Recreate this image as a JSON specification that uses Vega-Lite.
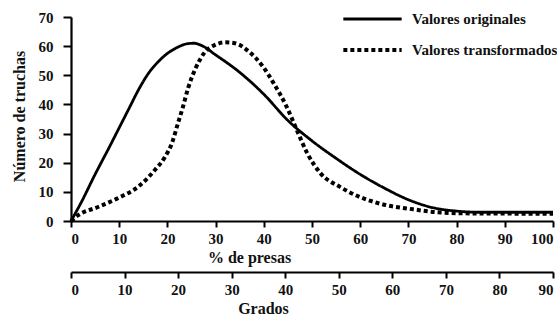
{
  "$schema": "https://vega.github.io/schema/vega-lite/v6.json",
  "width": 482,
  "height": 204,
  "autosize": {"type": "none"},
  "padding": {"left": 71, "top": 17, "right": 4, "bottom": 95},
  "background": "white",
  "config": {
    "view": {"stroke": null},
    "font": "'Liberation Serif', 'Times New Roman', serif",
    "axis": {
      "grid": false,
      "domainColor": "black",
      "domainWidth": 2.2,
      "tickColor": "black",
      "tickWidth": 2,
      "labelFont": "'Liberation Serif', 'Times New Roman', serif",
      "labelFontWeight": "bold",
      "labelFontSize": 15,
      "labelColor": "#111",
      "titleFont": "'Liberation Serif', 'Times New Roman', serif",
      "titleFontWeight": "bold",
      "titleFontSize": 16,
      "titleColor": "#111"
    },
    "legend": {
      "orient": "none",
      "legendX": 270,
      "legendY": -12,
      "symbolType": "stroke",
      "symbolSize": 3400,
      "symbolStrokeWidth": 3,
      "symbolStrokeColor": "black",
      "labelFont": "'Liberation Serif', 'Times New Roman', serif",
      "labelFontWeight": "bold",
      "labelFontSize": 15,
      "labelColor": "#111",
      "labelOffset": 8,
      "clipHeight": 28,
      "rowPadding": 3,
      "labelLimit": 400
    }
  },
  "layer": [
    {
      "data": {
        "values": [
          {"serie": "Valores originales", "pct": 0, "n": 0},
          {"serie": "Valores originales", "pct": 2, "n": 6},
          {"serie": "Valores originales", "pct": 5, "n": 16},
          {"serie": "Valores originales", "pct": 8, "n": 25.5},
          {"serie": "Valores originales", "pct": 10, "n": 32},
          {"serie": "Valores originales", "pct": 12, "n": 38.5},
          {"serie": "Valores originales", "pct": 14, "n": 45},
          {"serie": "Valores originales", "pct": 16, "n": 50.5},
          {"serie": "Valores originales", "pct": 18, "n": 54.5},
          {"serie": "Valores originales", "pct": 20, "n": 57.5},
          {"serie": "Valores originales", "pct": 22, "n": 59.5},
          {"serie": "Valores originales", "pct": 24, "n": 60.8},
          {"serie": "Valores originales", "pct": 25.5, "n": 61},
          {"serie": "Valores originales", "pct": 27, "n": 60.3},
          {"serie": "Valores originales", "pct": 30, "n": 57},
          {"serie": "Valores originales", "pct": 35, "n": 51},
          {"serie": "Valores originales", "pct": 40, "n": 43.5},
          {"serie": "Valores originales", "pct": 45, "n": 34.5},
          {"serie": "Valores originales", "pct": 50, "n": 27.5},
          {"serie": "Valores originales", "pct": 55, "n": 21.5},
          {"serie": "Valores originales", "pct": 60, "n": 16},
          {"serie": "Valores originales", "pct": 65, "n": 11.3},
          {"serie": "Valores originales", "pct": 70, "n": 7.3},
          {"serie": "Valores originales", "pct": 75, "n": 4.6},
          {"serie": "Valores originales", "pct": 80, "n": 3.4},
          {"serie": "Valores originales", "pct": 85, "n": 3},
          {"serie": "Valores originales", "pct": 100, "n": 3},
          {"serie": "Valores transformados", "pct": 0, "n": 0},
          {"serie": "Valores transformados", "pct": 1.5, "n": 2},
          {"serie": "Valores transformados", "pct": 5.6, "n": 4.8},
          {"serie": "Valores transformados", "pct": 9.8, "n": 7.9},
          {"serie": "Valores transformados", "pct": 13.9, "n": 11.7},
          {"serie": "Valores transformados", "pct": 17.4, "n": 17.5},
          {"serie": "Valores transformados", "pct": 19.5, "n": 22},
          {"serie": "Valores transformados", "pct": 21, "n": 27},
          {"serie": "Valores transformados", "pct": 22.2, "n": 33.6},
          {"serie": "Valores transformados", "pct": 23.2, "n": 39},
          {"serie": "Valores transformados", "pct": 24.3, "n": 45.6},
          {"serie": "Valores transformados", "pct": 25.7, "n": 51.8},
          {"serie": "Valores transformados", "pct": 27.8, "n": 58},
          {"serie": "Valores transformados", "pct": 30, "n": 60.5},
          {"serie": "Valores transformados", "pct": 32, "n": 61.3},
          {"serie": "Valores transformados", "pct": 34, "n": 61},
          {"serie": "Valores transformados", "pct": 37, "n": 58},
          {"serie": "Valores transformados", "pct": 39.8, "n": 53},
          {"serie": "Valores transformados", "pct": 42, "n": 47.4},
          {"serie": "Valores transformados", "pct": 44.8, "n": 39},
          {"serie": "Valores transformados", "pct": 46.9, "n": 31},
          {"serie": "Valores transformados", "pct": 49, "n": 23.3},
          {"serie": "Valores transformados", "pct": 51.7, "n": 16.5},
          {"serie": "Valores transformados", "pct": 55.8, "n": 11.7},
          {"serie": "Valores transformados", "pct": 60, "n": 8.2},
          {"serie": "Valores transformados", "pct": 64, "n": 6},
          {"serie": "Valores transformados", "pct": 71, "n": 4},
          {"serie": "Valores transformados", "pct": 76, "n": 3},
          {"serie": "Valores transformados", "pct": 83, "n": 2.6},
          {"serie": "Valores transformados", "pct": 100, "n": 2.5}
        ]
      },
      "mark": {"type": "line", "interpolate": "monotone", "stroke": "black", "strokeCap": "butt"},
      "encoding": {
        "x": {
          "field": "pct",
          "type": "quantitative",
          "scale": {"domain": [0, 100], "nice": false},
          "axis": {
            "title": "% de presas",
            "values": [0, 10, 20, 30, 40, 50, 60, 70, 80, 90, 100],
            "tickSize": 6,
            "labelPadding": 4,
            "titleX": 178,
            "titleY": 41,
            "titleAnchor": null,
            "titleAlign": "center",
            "titleBaseline": "alphabetic"
          }
        },
        "y": {
          "field": "n",
          "type": "quantitative",
          "scale": {"domain": [0, 70], "nice": false},
          "axis": {
            "title": "Número de truchas",
            "values": [0, 10, 20, 30, 40, 50, 60, 70],
            "tickSize": 8,
            "labelPadding": 10,
            "titleX": -52,
            "titleY": 99,
            "titleAlign": "center",
            "titleBaseline": "middle"
          }
        },
        "strokeDash": {
          "field": "serie",
          "type": "nominal",
          "scale": {"domain": ["Valores originales", "Valores transformados"], "range": [[1, 0], [4, 3]]},
          "legend": {"title": null}
        },
        "strokeWidth": {
          "field": "serie",
          "type": "nominal",
          "scale": {"domain": ["Valores originales", "Valores transformados"], "range": [2.8, 4]},
          "legend": null
        }
      }
    },
    {
      "data": {"values": [{"grados": 0}, {"grados": 90}]},
      "mark": {"type": "point", "opacity": 0},
      "encoding": {
        "x": {
          "field": "grados",
          "type": "quantitative",
          "scale": {"domain": [0, 90], "nice": false},
          "axis": {
            "orient": "bottom",
            "offset": 51,
            "title": "Grados",
            "values": [0, 10, 20, 30, 40, 50, 60, 70, 80, 90],
            "tickSize": 6,
            "labelPadding": 4,
            "titleX": 192,
            "titleY": 41,
            "titleAlign": "center",
            "titleBaseline": "alphabetic"
          }
        }
      }
    }
  ],
  "resolve": {"scale": {"x": "independent"}}
}
